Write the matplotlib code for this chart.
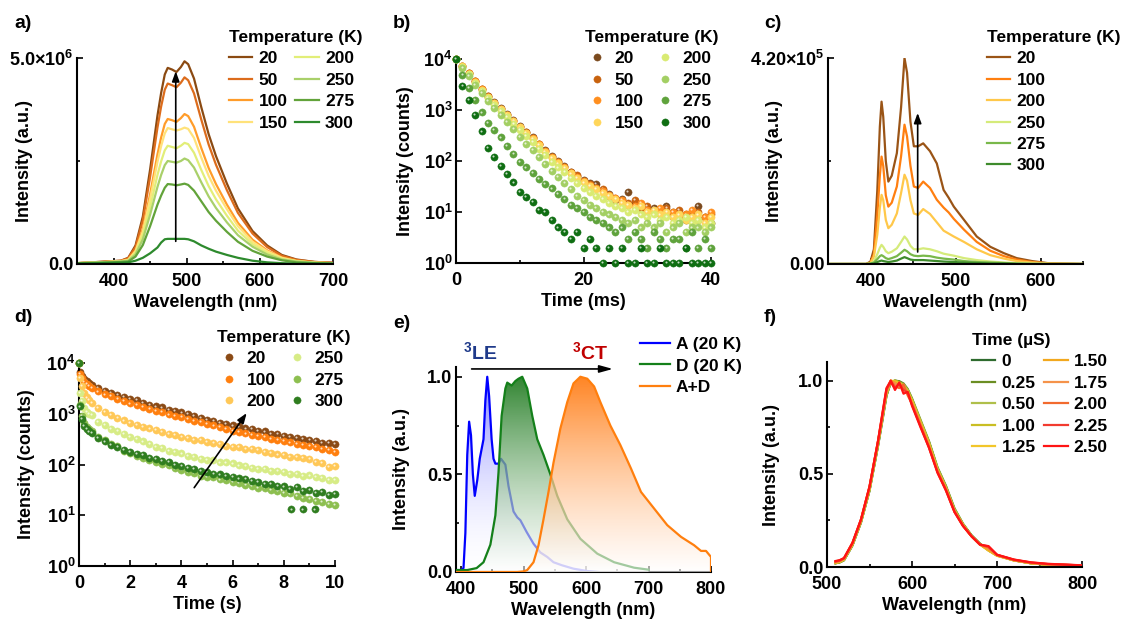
import numpy as np
import matplotlib
matplotlib.use("Agg")
import matplotlib.pyplot as plt
import matplotlib.colors as mcolors
from matplotlib.transforms import ScaledTranslation

plt.rcParams['font.family'] = ['Liberation Sans', 'DejaVu Sans']
plt.rcParams['font.weight'] = 'bold'
plt.rcParams['axes.labelweight'] = 'bold'
plt.rcParams['mathtext.fontset'] = 'custom'
plt.rcParams['mathtext.rm'] = 'Liberation Sans:bold'
plt.rcParams['mathtext.bf'] = 'Liberation Sans:bold'
plt.rcParams['mathtext.it'] = 'Liberation Sans:bold:italic'
plt.rcParams['mathtext.default'] = 'bf'

FS = 12.5      # legends
LFS = 13       # axis titles
TFS = 13       # tick labels

# ---------------- a) steady-state spectra vs temperature ----------------
a_wl = [350, 380, 410, 420, 430, 440, 450, 460, 465, 470, 474, 480, 486, 492, 497, 502,
        510, 520, 530, 540, 555, 570, 590, 610, 630, 650, 675, 700]
a_temps = ['20', '50', '100', '150', '200', '250', '275', '300']
a_int = {  # x 1e6
    '20':  [0.02, 0.05, 0.08, 0.15, 0.45, 1.15, 2.30, 3.60, 4.15, 4.60, 4.76, 4.72, 4.66, 4.78, 4.92, 4.85,
            4.50, 3.80, 3.15, 2.62, 1.95, 1.35, 0.80, 0.45, 0.22, 0.11, 0.05, 0.03],
    '50':  [0.02, 0.05, 0.08, 0.14, 0.41, 1.06, 2.12, 3.31, 3.82, 4.23, 4.38, 4.34, 4.29, 4.40, 4.53, 4.46,
            4.14, 3.50, 2.90, 2.41, 1.79, 1.24, 0.74, 0.41, 0.20, 0.10, 0.05, 0.03],
    '100': [0.02, 0.04, 0.07, 0.11, 0.33, 0.85, 1.70, 2.66, 3.07, 3.40, 3.52, 3.49, 3.45, 3.54, 3.64, 3.59,
            3.33, 2.81, 2.33, 1.94, 1.44, 1.00, 0.59, 0.33, 0.16, 0.08, 0.04, 0.02],
    '150': [0.02, 0.04, 0.07, 0.10, 0.31, 0.79, 1.58, 2.48, 2.86, 3.17, 3.30, 3.27, 3.24, 3.27, 3.31, 3.28,
            3.06, 2.58, 2.14, 1.78, 1.33, 0.92, 0.54, 0.31, 0.15, 0.07, 0.03, 0.02],
    '200': [0.02, 0.04, 0.06, 0.09, 0.27, 0.69, 1.38, 2.16, 2.49, 2.76, 2.87, 2.84, 2.81, 2.87, 2.94, 2.91,
            2.70, 2.28, 1.89, 1.57, 1.17, 0.81, 0.48, 0.27, 0.13, 0.07, 0.03, 0.02],
    '250': [0.02, 0.04, 0.06, 0.08, 0.23, 0.60, 1.20, 1.87, 2.16, 2.40, 2.50, 2.48, 2.46, 2.50, 2.56, 2.52,
            2.34, 1.98, 1.64, 1.36, 1.01, 0.70, 0.42, 0.23, 0.11, 0.06, 0.03, 0.02],
    '275': [0.02, 0.03, 0.05, 0.06, 0.18, 0.46, 0.92, 1.44, 1.66, 1.85, 1.94, 1.93, 1.91, 1.93, 1.95, 1.92,
            1.78, 1.52, 1.26, 1.05, 0.78, 0.54, 0.32, 0.18, 0.09, 0.04, 0.02, 0.01],
    '300': [0.01, 0.02, 0.03, 0.04, 0.08, 0.15, 0.26, 0.40, 0.52, 0.60, 0.61, 0.61, 0.61, 0.61, 0.61, 0.60,
            0.55, 0.45, 0.37, 0.30, 0.22, 0.15, 0.08, 0.04, 0.02, 0.01, 0.01, 0.005],
}
a_colors = ['#8B4A12', '#DC6C1C', '#FF9C2A', '#FFE27A', '#E2EE78', '#A9D06A', '#62A33A', '#2D8A2D']

# ---------------- b) delayed decay (ms) ----------------
b_time = list(range(0, 41))
b_temps = ['20', '50', '100', '150', '200', '250', '275', '300']
b_counts = {
    '20':  [10000, 7400, 5300, 3700, 2600, 1860, 1420, 1080, 820, 630, 480, 370, 290, 220, 165, 123, 98, 80, 62, 50,
            43, 37, 36, 27, 23, 17, 18, 25, 15, 14, 11, 12, 11, 13, 10, 9, 7, 9, 13, 8, 6],
    '50':  [10000, 7350, 5250, 3680, 2580, 1840, 1400, 1070, 810, 620, 470, 365, 285, 215, 160, 120, 96, 78, 60, 52,
            40, 35, 30, 28, 21, 19, 16, 15, 17, 12, 13, 10, 9, 12, 8, 11, 9, 7, 10, 8, 9],
    '100': [10000, 7300, 5200, 3650, 2550, 1820, 1390, 1060, 800, 610, 465, 360, 280, 212, 158, 118, 94, 76, 59, 48,
            41, 34, 29, 26, 22, 19, 17, 14, 13, 15, 11, 10, 12, 9, 10, 8, 9, 11, 7, 8, 10],
    '150': [10000, 7250, 5150, 3600, 2520, 1800, 1370, 1040, 790, 600, 455, 350, 272, 205, 152, 114, 90, 72, 57, 47,
            38, 32, 28, 24, 21, 18, 15, 14, 12, 13, 10, 11, 9, 10, 8, 9, 7, 8, 9, 6, 8],
    '200': [10000, 7100, 5000, 3450, 2400, 1700, 1280, 960, 720, 540, 405, 305, 235, 175, 130, 97, 75, 60, 46, 37,
            30, 25, 21, 18, 15, 13, 12, 10, 11, 9, 8, 9, 7, 8, 6, 7, 8, 6, 7, 5, 6],
    '250': [10000, 6800, 4700, 3150, 2150, 1480, 1080, 790, 580, 420, 300, 220, 165, 120, 88, 65, 48, 37, 28, 21,
            17, 14, 12, 10, 9, 8, 7, 6, 7, 5, 6, 5, 6, 4, 5, 6, 4, 5, 5, 4, 5],
    '275': [10000, 4800, 2700, 1600, 900, 560, 400, 290, 200, 140, 95, 75, 58, 45, 36, 29, 23, 18, 14, 12,
            10, 8, 7, 6, 5, 4, 5, 3, 4, 3, 2, 4, 3, 2, 3, 3, 2, 4, 2, 3, 2],
    '300': [10000, 3000, 1600, 800, 380, 180, 120, 80, 55, 38, 25, 20, 16, 11, 10, 7, 5, 4, 3, 4,
            2, 3, 2, 1, 2, 1, 2, 1, 1, 2, 1, 1, 2, 1, 1, 1, 2, 1, 1, 1, 1],
}
b_colors = ['#7B4A1E', '#C8620E', '#FF8F1F', '#FFD65A', '#D9EB72', '#A3CF63', '#5FA33C', '#0F6E12']

# ---------------- c) acceptor spectra vs temperature ----------------
c_wl = [350, 395, 400, 404, 408, 411, 413, 415, 418, 421, 425, 431, 436, 440, 443, 447,
        451, 456, 462, 470, 478, 486, 492, 498, 510, 525, 541, 557, 572, 590, 612, 650]
c_temps = ['20', '100', '200', '250', '275', '300']
c_int = {  # x 1e5
    '20':  [0, 0, 0.05, 0.3, 1.5, 2.8, 3.31, 3.0, 2.1, 1.68, 1.8, 2.26, 3.2, 4.2, 3.9, 2.9,
            2.40, 2.40, 2.46, 2.30, 2.05, 1.51, 1.35, 1.17, 0.90, 0.56, 0.35, 0.22, 0.12, 0.06, 0.01, 0],
    '100': [0, 0, 0.03, 0.2, 1.0, 1.8, 2.19, 2.0, 1.4, 1.17, 1.25, 1.58, 2.2, 2.84, 2.6, 2.0,
            1.58, 1.55, 1.68, 1.55, 1.31, 1.15, 1.05, 0.92, 0.70, 0.45, 0.27, 0.16, 0.09, 0.04, 0.01, 0],
    '200': [0, 0, 0.02, 0.15, 0.6, 1.15, 1.41, 1.3, 0.9, 0.73, 0.8, 1.03, 1.45, 1.82, 1.7, 1.3,
            1.03, 1.0, 1.12, 1.02, 0.85, 0.68, 0.62, 0.56, 0.45, 0.30, 0.18, 0.11, 0.06, 0.03, 0.01, 0],
    '250': [0, 0, 0.01, 0.05, 0.2, 0.33, 0.39, 0.35, 0.26, 0.22, 0.25, 0.32, 0.45, 0.56, 0.50, 0.37,
            0.30, 0.30, 0.32, 0.30, 0.26, 0.21, 0.19, 0.17, 0.12, 0.08, 0.05, 0.03, 0.02, 0.01, 0, 0],
    '275': [0, 0, 0.01, 0.03, 0.1, 0.16, 0.18, 0.16, 0.12, 0.10, 0.12, 0.16, 0.23, 0.29, 0.26, 0.2,
            0.17, 0.16, 0.17, 0.16, 0.13, 0.11, 0.10, 0.09, 0.06, 0.04, 0.03, 0.02, 0.01, 0, 0, 0],
    '300': [0, 0, 0, 0.01, 0.04, 0.06, 0.07, 0.06, 0.05, 0.04, 0.05, 0.07, 0.11, 0.14, 0.12, 0.09,
            0.08, 0.08, 0.08, 0.07, 0.06, 0.05, 0.045, 0.04, 0.03, 0.02, 0.01, 0.01, 0, 0, 0, 0],
}
c_colors = ['#9A5416', '#FF7F10', '#FFC84A', '#D5EB7A', '#79B84A', '#3E8B2C']

# ---------------- d) long-lived decay (s) ----------------
d_time = [0, 0.05, 0.1, 0.2, 0.3, 0.4] + list(np.arange(0.5, 10.01, 0.25))
d_temps = ['20', '100', '200', '250', '275', '300']
d_counts = {
    '20':  [10000, 6500, 5600, 4900, 4400, 4000,
            3700, 3250, 2800, 2600, 2380, 2150, 1950, 1850, 1660, 1520, 1400, 1330, 1210, 1150, 1060, 1000,
            900, 840, 760, 730, 660, 640, 590, 565, 515, 495, 460, 450, 405, 395, 370, 355, 330, 325, 305,
            290, 270, 265, 250],
    '100': [10000, 6000, 5000, 4300, 3800, 3500,
            3200, 2750, 2400, 2230, 1980, 1800, 1600, 1490, 1360, 1250, 1130, 1070, 970, 920, 850, 800,
            720, 680, 620, 590, 540, 505, 460, 445, 410, 385, 360, 345, 318, 310, 290, 272, 255, 245, 230,
            218, 200, 195, 180],
    '200': [10000, 5000, 3600, 2600, 2100, 1850,
            1650, 1300, 1100, 960, 830, 740, 650, 610, 545, 515, 480, 445, 405, 385, 355, 340,
            305, 300, 280, 262, 252, 232, 225, 218, 203, 202, 195, 178, 172, 158, 155, 142, 140, 133, 130,
            112, 108, 88, 95],
    '250': [10000, 2600, 1800, 1300, 1100, 1000,
            950, 700, 610, 510, 465, 395, 355, 325, 285, 258, 225, 210, 188, 178, 165, 148,
            142, 128, 123, 120, 110, 110, 105, 96, 93, 86, 83, 81, 75, 74, 71, 66, 65, 60, 61,
            56, 55, 50, 49],
    '275': [10000, 1500, 900, 650, 550, 500,
            450, 355, 305, 255, 228, 188, 168, 148, 137, 120, 114, 102, 96, 84, 78, 71,
            67, 60, 58, 56, 51, 49, 45, 44, 39, 38, 35, 34, 31, 30, 28, 27, 24, 22, 21,
            19, 18, 17, 16],
    '300': [10000, 1400, 800, 580, 500, 450,
            415, 335, 285, 240, 218, 192, 180, 162, 152, 136, 128, 116, 112, 98, 94, 85,
            82, 74, 72, 66, 64, 59, 57, 53, 52, 47, 46, 42, 41, 38, 37, 33, 36, 30, 31,
            28, 29, 25, 26],
}
d_late_time = [8.3, 8.75, 9.2]
d_late_counts = [13, 13, 13]
d_colors = ['#8A4A15', '#FF7F0E', '#FFC857', '#D7EC86', '#8DBF50', '#2F7D1F']
d_arrow = [(4.5, 35), (6.55, 1030)]

# ---------------- e) normalized A, D and A+D spectra ----------------
eA_wl = [392, 400, 404, 407, 410, 413, 416, 419, 422, 426, 430, 436, 439, 442, 445, 449, 452, 455,
         460, 464, 471, 476, 484, 490, 495, 505, 516, 527, 538, 548, 562, 580, 602, 620]
eA_int = [0.01, 0.01, 0.02, 0.2, 0.6, 0.77, 0.7, 0.5, 0.39, 0.47, 0.58, 0.68, 0.88, 1.0, 0.9, 0.68, 0.58, 0.555,
          0.555, 0.58, 0.55, 0.44, 0.31, 0.28, 0.265, 0.205, 0.145, 0.10, 0.077, 0.05, 0.034, 0.017, 0.005, 0.0]
eD_wl = [392, 410, 425, 436, 447, 455, 460, 465, 471, 474, 481, 487, 492, 498, 506, 514, 522, 532,
         543, 554, 570, 591, 618, 645, 677, 700]
eD_int = [0.01, 0.01, 0.02, 0.05, 0.14, 0.29, 0.51, 0.80, 0.94, 0.97, 0.955, 0.978, 0.99, 1.0, 0.94, 0.80, 0.68,
          0.60, 0.50, 0.39, 0.27, 0.17, 0.094, 0.05, 0.022, 0.012]
eAD_wl = [392, 490, 500, 506, 516, 524, 532, 540, 548, 559, 570, 580, 591, 602, 613, 623, 639, 655,
          672, 688, 709, 730, 752, 773, 784, 792, 800, 800]
eAD_int = [0, 0, 0.003, 0.01, 0.05, 0.137, 0.27, 0.41, 0.56, 0.735, 0.87, 0.966, 1.0, 0.99, 0.95, 0.87, 0.75,
           0.65, 0.53, 0.41, 0.325, 0.24, 0.18, 0.137, 0.108, 0.108, 0.077, 0.0]
e_labels = ['A (20 K)', 'D (20 K)', 'A+D']
e_colors = ['#0000FF', '#14801A', '#FF7F0E']

# ---------------- f) time-resolved normalized spectra ----------------
f_wl = [510, 515, 520, 530, 540, 550, 560, 565, 570, 575, 580, 585, 590, 595, 600, 610, 620, 630, 640,
        650, 660, 670, 680, 690, 700, 720, 740, 760, 780, 800]
f_times = ['0', '0.25', '0.50', '1.00', '1.25', '1.50', '1.75', '2.00', '2.25', '2.50']
f_int = {
    '0':    [0.02, 0.025, 0.036, 0.116, 0.24, 0.41, 0.65, 0.78, 0.92, 0.99, 1.0, 0.995, 0.98, 0.95, 0.90, 0.78,
             0.67, 0.53, 0.43, 0.31, 0.23, 0.17, 0.125, 0.09, 0.0625, 0.036, 0.02, 0.012, 0.009, 0.005],
    '0.25': [0.02, 0.025, 0.037, 0.117, 0.24, 0.41, 0.65, 0.79, 0.92, 0.99, 1.0, 0.997, 0.985, 0.955, 0.905, 0.79,
             0.675, 0.535, 0.435, 0.315, 0.232, 0.17, 0.125, 0.09, 0.063, 0.036, 0.02, 0.012, 0.009, 0.005],
    '0.50': [0.021, 0.026, 0.038, 0.118, 0.242, 0.412, 0.655, 0.79, 0.925, 0.99, 1.0, 0.99, 0.98, 0.95, 0.90, 0.785,
             0.67, 0.53, 0.43, 0.31, 0.23, 0.168, 0.124, 0.09, 0.062, 0.036, 0.02, 0.012, 0.009, 0.005],
    '1.00': [0.022, 0.027, 0.04, 0.12, 0.245, 0.415, 0.66, 0.795, 0.93, 0.995, 1.0, 0.99, 0.975, 0.945, 0.895, 0.78,
             0.665, 0.525, 0.425, 0.305, 0.228, 0.166, 0.122, 0.089, 0.062, 0.035, 0.02, 0.012, 0.009, 0.005],
    '1.25': [0.022, 0.028, 0.04, 0.122, 0.248, 0.42, 0.665, 0.80, 0.935, 1.0, 0.995, 0.985, 0.97, 0.94, 0.89, 0.775,
             0.66, 0.52, 0.42, 0.30, 0.225, 0.165, 0.12, 0.088, 0.06, 0.035, 0.02, 0.012, 0.009, 0.006],
    '1.50': [0.024, 0.03, 0.042, 0.125, 0.25, 0.425, 0.67, 0.805, 0.94, 1.0, 0.99, 0.975, 0.965, 0.935, 0.885, 0.77,
             0.655, 0.515, 0.418, 0.30, 0.225, 0.165, 0.12, 0.092, 0.061, 0.036, 0.021, 0.013, 0.01, 0.006],
    '1.75': [0.026, 0.032, 0.044, 0.127, 0.252, 0.428, 0.672, 0.80, 0.94, 0.995, 0.985, 0.97, 0.975, 0.93, 0.88, 0.765,
             0.65, 0.515, 0.42, 0.30, 0.224, 0.166, 0.122, 0.10, 0.064, 0.037, 0.022, 0.014, 0.011, 0.007],
    '2.00': [0.028, 0.034, 0.046, 0.128, 0.254, 0.43, 0.675, 0.81, 0.95, 1.0, 0.97, 0.96, 0.98, 0.92, 0.875, 0.76,
             0.645, 0.51, 0.415, 0.298, 0.222, 0.165, 0.12, 0.105, 0.065, 0.038, 0.023, 0.015, 0.012, 0.008],
    '2.25': [0.03, 0.035, 0.047, 0.13, 0.256, 0.43, 0.675, 0.815, 0.955, 0.99, 0.96, 0.985, 0.95, 0.935, 0.87, 0.755,
             0.64, 0.51, 0.41, 0.295, 0.22, 0.165, 0.12, 0.11, 0.065, 0.039, 0.024, 0.016, 0.013, 0.008],
    '2.50': [0.032, 0.037, 0.048, 0.13, 0.255, 0.432, 0.675, 0.82, 0.96, 1.0, 0.95, 0.99, 0.93, 0.94, 0.865, 0.75,
             0.64, 0.505, 0.41, 0.295, 0.22, 0.165, 0.12, 0.112, 0.066, 0.04, 0.025, 0.017, 0.013, 0.009],
}
f_colors = ['#2E6B2E', '#6B8E23', '#AFBF4A', '#C9BE23', '#F2C62A', '#F2A81E', '#F5934A', '#F26A2E',
            '#F23B2F', '#FF1414']

# ---------------- layout helpers ----------------
W, H = 1126, 619
fig = plt.figure(figsize=(W / 100, H / 100), dpi=100)


def px_axes(x0, y0, x1, y1):
    return fig.add_axes([x0 / W, 1 - y1 / H, (x1 - x0) / W, (y1 - y0) / H])


def style(ax, ylab_x):
    for s in ('top', 'right'):
        ax.spines[s].set_visible(False)
    for s in ('left', 'bottom'):
        ax.spines[s].set_linewidth(1.5)
    ax.tick_params(axis='both', which='both', direction='in', labelsize=TFS, width=1.2)
    ax.tick_params(axis='both', which='major', length=4)
    ax.tick_params(axis='both', which='minor', length=2.5)
    ax.tick_params(axis='x', pad=6.5)
    ax.tick_params(axis='y', pad=2.5)
    ax.yaxis.set_label_coords(ylab_x, 0.5)
    ax.xaxis.labelpad = 3
    for t in ax.get_xticklabels() + ax.get_yticklabels():
        t.set_fontweight('bold')


def legend(ax, handles, labels, x, y, ncol=1, title=None, hl=1.4, cs=0.5):
    lg = ax.legend(handles, labels, loc='upper left', bbox_to_anchor=(x / W, 1 - y / H),
                   bbox_transform=fig.transFigure, ncol=ncol, frameon=False, fontsize=FS,
                   title=title, title_fontproperties={'weight': 'bold', 'size': FS},
                   handlelength=hl, handletextpad=0.35, columnspacing=cs, labelspacing=0.36,
                   borderpad=0, borderaxespad=0, alignment='left')
    for t in lg.get_texts():
        t.set_fontweight('bold')
    return lg


def arrow(ax, start, end):
    ax.annotate('', xy=end, xytext=start,
                arrowprops=dict(arrowstyle='-|>,head_length=0.6,head_width=0.22', lw=1.2, color='k',
                                shrinkA=0, shrinkB=0), zorder=10)


def scatter_series(ax, x, y, color, ms=5.2, z=2):
    ln, = ax.plot(x, y, 'o', ms=ms, color=color, mec=color, mew=0.3, clip_on=False, zorder=z)
    shift = ScaledTranslation(-0.6 / 72, 0.6 / 72, fig.dpi_scale_trans)
    ax.plot(x, y, 'o', ms=1.5, color='white', mew=0, alpha=0.75, clip_on=False,
            transform=ax.transData + shift, zorder=z)
    return ln


def gradient_fill(ax, x, y, color, a_top, a_bot, z):
    poly = ax.fill_between(x, y, 0, facecolor='none', edgecolor='none')
    rgb = np.array(mcolors.to_rgb(color))
    frac = np.linspace(0, 1, 256)[:, None]
    img = np.ones((256, 1, 4))
    img[..., :3] = (rgb[None, None, :] * frac[..., None] + (1 - frac[..., None]) * 1.0)
    img[..., 3] = a_bot + (a_top - a_bot) * frac
    im = ax.imshow(img, extent=[min(x), max(x), 0, max(y)], origin='lower', aspect='auto',
                   zorder=z, interpolation='bilinear')
    im.set_clip_path(poly.get_paths()[0], transform=ax.transData)


def panel_label(x, y, s):
    fig.text(x / W, 1 - y / H, s, fontsize=14, fontweight='bold', va='center', ha='left')


# ---------------- a ----------------
ax = px_axes(77, 58, 333, 264)
handles = []
for name, col in zip(a_temps, a_colors):
    ln, = ax.plot(a_wl, np.array(a_int[name]) * 1e6, color=col, lw=1.6)
    handles.append(ln)
ax.set_xlim(350, 700)
ax.set_ylim(0, 5e6)
ax.set_xticks([400, 500, 600, 700])
ax.set_xticks([450, 550, 650], minor=True)
ax.set_yticks([0, 5e6], ['0.0', r'$5.0{\times}10^{6}$'])
ax.set_yticks([2.5e6], minor=True)
ax.set_xlabel('Wavelength (nm)', fontsize=LFS)
ax.set_ylabel('Intensity (a.u.)', fontsize=LFS)
style(ax, -0.172)
arrow(ax, (485, 0.55e6), (485, 4.68e6))
legend(ax, handles, a_temps, 229, 30, ncol=2, title='Temperature (K)', hl=1.35, cs=0.45)
panel_label(14, 23, 'a)')

# ---------------- b ----------------
ax = px_axes(456, 59, 711, 263)
handles = []
for i, (name, col) in enumerate(zip(b_temps, b_colors)):
    handles.append(scatter_series(ax, b_time, b_counts[name], col, z=2 + i))
ax.set_yscale('log')
ax.set_xlim(0, 40)
ax.set_ylim(1, 1e4)
ax.set_xticks([0, 20, 40])
ax.set_xticks([10, 30], minor=True)
ax.set_yticks([1, 10, 100, 1000, 10000], [r'$10^{0}$', r'$10^{1}$', r'$10^{2}$', r'$10^{3}$', r'$10^{4}$'])
ax.yaxis.set_minor_locator(matplotlib.ticker.NullLocator())
ax.set_xlabel('Time (ms)', fontsize=LFS)
ax.set_ylabel('Intensity (counts)', fontsize=LFS)
style(ax, -0.165)
legend(ax, handles, b_temps, 585, 30, ncol=2, title='Temperature (K)', hl=1.35, cs=0.55)
panel_label(393, 23, 'b)')

# ---------------- c ----------------
ax = px_axes(828, 58, 1083, 264)
handles = []
for name, col in zip(c_temps, c_colors):
    ln, = ax.plot(c_wl, np.array(c_int[name]) * 1e5, color=col, lw=1.6)
    handles.append(ln)
ax.set_xlim(350, 650)
ax.set_ylim(0, 4.2e5)
ax.set_xticks([400, 500, 600])
ax.set_xticks([350, 450, 550, 650], minor=True)
ax.set_yticks([0, 4.2e5], ['0.00', r'$4.20{\times}10^{5}$'])
ax.set_yticks([2.1e5], minor=True)
ax.set_xlabel('Wavelength (nm)', fontsize=LFS)
ax.set_ylabel('Intensity (a.u.)', fontsize=LFS)
style(ax, -0.176)
arrow(ax, (455.5, 0.245e5), (455.5, 3.08e5))
legend(ax, handles, c_temps, 987, 30, ncol=1, title='Temperature (K)', hl=1.35)
panel_label(764, 23, 'c)')

# ---------------- d ----------------
ax = px_axes(79, 363, 335, 566)
handles = []
for i, (name, col) in enumerate(zip(d_temps, d_colors)):
    handles.append(scatter_series(ax, d_time, d_counts[name], col, z=2 + i))
scatter_series(ax, d_late_time, d_late_counts, d_colors[-1], z=8)
ax.set_yscale('log')
ax.set_xlim(0, 10)
ax.set_ylim(1, 1e4)
ax.set_xticks([0, 2, 4, 6, 8, 10])
ax.set_xticks([1, 3, 5, 7, 9], minor=True)
ax.set_yticks([1, 10, 100, 1000, 10000], [r'$10^{0}$', r'$10^{1}$', r'$10^{2}$', r'$10^{3}$', r'$10^{4}$'])
ax.yaxis.set_minor_locator(matplotlib.ticker.NullLocator())
ax.set_xlabel('Time (s)', fontsize=LFS)
ax.set_ylabel('Intensity (counts)', fontsize=LFS)
style(ax, -0.172)
arrow(ax, d_arrow[0], d_arrow[1])
legend(ax, handles, d_temps, 217, 330, ncol=2, title='Temperature (K)', hl=1.35, cs=0.55)
panel_label(14, 317, 'd)')

# ---------------- e ----------------
ax = px_axes(456, 367, 711, 572)
gradient_fill(ax, eA_wl, eA_int, '#3030FF', 0.6, 0.08, 1)
lA, = ax.plot(eA_wl, eA_int, color=e_colors[0], lw=1.6, zorder=2)
gradient_fill(ax, eD_wl, eD_int, '#1E7A1E', 0.92, 0.55, 3)
lD, = ax.plot(eD_wl, eD_int, color=e_colors[1], lw=1.6, zorder=4)
gradient_fill(ax, eAD_wl, eAD_int, '#FF7A10', 0.92, 0.6, 5)
lAD, = ax.plot(eAD_wl, eAD_int, color=e_colors[2], lw=1.6, zorder=6)
ax.set_xlim(392, 800)
ax.set_ylim(0, 1.05)
ax.set_xticks([400, 500, 600, 700, 800])
ax.set_xticks([450, 550, 650, 750], minor=True)
ax.set_yticks([0, 0.5, 1.0], ['0.0', '0.5', '1.0'])
ax.set_yticks([0.25, 0.75], minor=True)
ax.set_xlabel('Wavelength (nm)', fontsize=LFS)
ax.set_ylabel('Intensity (a.u.)', fontsize=LFS)
style(ax, -0.18)
ax.annotate('', xy=(643, 1.04), xytext=(417, 1.04), annotation_clip=False,
            arrowprops=dict(arrowstyle='-|>,head_length=0.8,head_width=0.22', lw=1.2, color='k',
                            shrinkA=0, shrinkB=0), zorder=10)
ax.text(430, 1.128, r'$^{3}$LE', color='#1F3A8A', fontsize=14, fontweight='bold',
        ha='center', va='center', clip_on=False)
ax.text(606, 1.128, r'$^{3}$CT', color='#C00000', fontsize=14, fontweight='bold',
        ha='center', va='center', clip_on=False)
legend(ax, [lA, lD, lAD], e_labels, 640, 337, ncol=1, hl=1.7)
panel_label(393, 323, 'e)')

# ---------------- f ----------------
ax = px_axes(827, 362, 1082, 567)
handles = []
for name, col in zip(f_times, f_colors):
    ln, = ax.plot(f_wl, f_int[name], color=col, lw=1.6)
    handles.append(ln)
ax.set_xlim(500, 800)
ax.set_ylim(0, 1.1)
ax.set_xticks([500, 600, 700, 800])
ax.set_xticks([550, 650, 750], minor=True)
ax.set_yticks([0, 0.5, 1.0], ['0.0', '0.5', '1.0'])
ax.set_yticks([0.25, 0.75], minor=True)
ax.set_xlabel('Wavelength (nm)', fontsize=LFS)
ax.set_ylabel('Intensity (a.u.)', fontsize=LFS)
style(ax, -0.184)
legend(ax, handles, f_times, 972, 333, ncol=2, title='Time (\u00b5S)', hl=1.35, cs=0.5)
panel_label(764, 317, 'f)')

fig.savefig('out.png', dpi=100)
